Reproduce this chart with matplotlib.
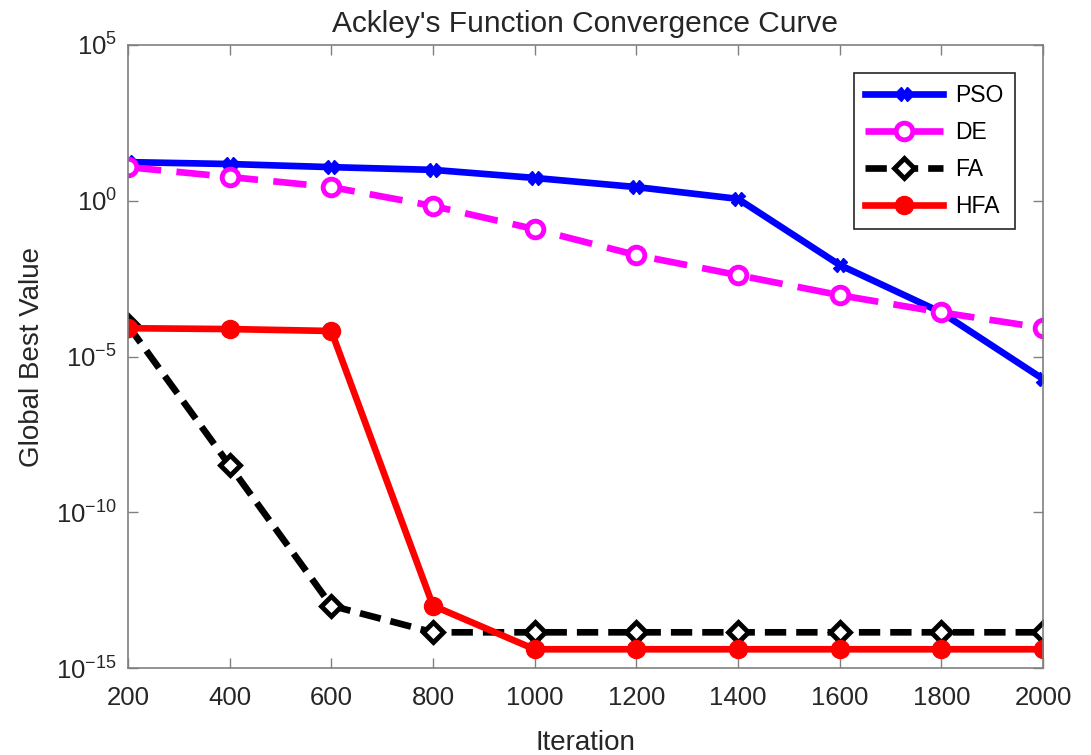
import matplotlib
matplotlib.use('Agg')
import matplotlib.pyplot as plt
from matplotlib.ticker import FixedLocator, NullLocator

plt.rcParams['font.family'] = ['Liberation Sans', 'DejaVu Sans']
plt.rcParams['mathtext.default'] = 'regular'
plt.rcParams['axes.unicode_minus'] = False

iterations = [200, 400, 600, 800, 1000, 1200, 1400, 1600, 1800, 2000]
pso = [17.4, 15.1, 12.0, 9.8, 5.4, 2.75, 1.15, 8.7e-3, 2.6e-4, 1.9e-6]
de = [12.0, 5.8, 2.75, 0.68, 0.123, 0.018, 4.1e-3, 9.3e-4, 2.6e-4, 8.3e-5]
fa = [1.0e-4, 3.2e-9, 1.0e-13, 1.4e-14, 1.4e-14, 1.4e-14, 1.4e-14, 1.4e-14, 1.4e-14, 1.4e-14]
hfa = [8.1e-5, 7.6e-5, 6.6e-5, 1.0e-13, 4.0e-15, 4.0e-15, 4.0e-15, 4.0e-15, 4.0e-15, 4.0e-15]

y_ticks = [1e-15, 1e-10, 1e-5, 1e0, 1e5]
y_labels = ['$10^{-15}$', '$10^{-10}$', '$10^{-5}$', '$10^{0}$', '$10^{5}$']

fig = plt.figure(figsize=(10.91, 7.55), dpi=100)
ax = fig.add_axes([0.1173, 0.1152, 0.8387, 0.8252])

lw = 4.8
ax.plot(iterations, pso, color='#0000ff', lw=lw, marker='X', ms=10, label='PSO')
ax.plot(iterations, de, color='#ff00ff', lw=lw, ls=(0, (5, 2.3)), marker='o', ms=12,
        mfc='white', mew=3.5, label='DE')
ax.plot(iterations, fa, color='black', lw=lw, ls=(0, (3.2, 1.5)), marker='D', ms=10,
        mfc='white', mew=3.5, label='FA')
ax.plot(iterations, hfa, color='#ff0000', lw=lw, marker='o', ms=13, label='HFA')

ax.set_yscale('log')
ax.set_xlim(200, 2000)
ax.set_ylim(1e-15, 1e5)
ax.xaxis.set_major_locator(FixedLocator(iterations))
ax.yaxis.set_major_locator(FixedLocator(y_ticks))
ax.yaxis.set_minor_locator(NullLocator())
ax.set_yticklabels(y_labels)

ax.tick_params(axis='both', direction='in', length=7, width=1, colors='#808080',
               labelcolor='#262626', labelsize=18.5, top=True, right=True)
ax.tick_params(axis='x', pad=13)
ax.tick_params(axis='y', pad=8)
for s in ax.spines.values():
    s.set_color('#808080')
    s.set_linewidth(1.2)

ax.set_xlabel('Iteration', fontsize=20, color='#262626', labelpad=14)
ax.set_ylabel('Global Best Value', fontsize=20, color='#262626', labelpad=8)
ax.set_title("Ackley's Function Convergence Curve", fontsize=21.5, color='#262626', pad=9)

leg = ax.legend(loc='upper right', bbox_to_anchor=(0.969, 0.955), fontsize=16.5,
                handlelength=3.4, handletextpad=0.5, borderpad=0.5, labelspacing=0.6,
                fancybox=False, framealpha=1, borderaxespad=0)
leg.get_frame().set_edgecolor('#262626')
leg.get_frame().set_linewidth(1.2)

fig.savefig('out.png', dpi=100)
